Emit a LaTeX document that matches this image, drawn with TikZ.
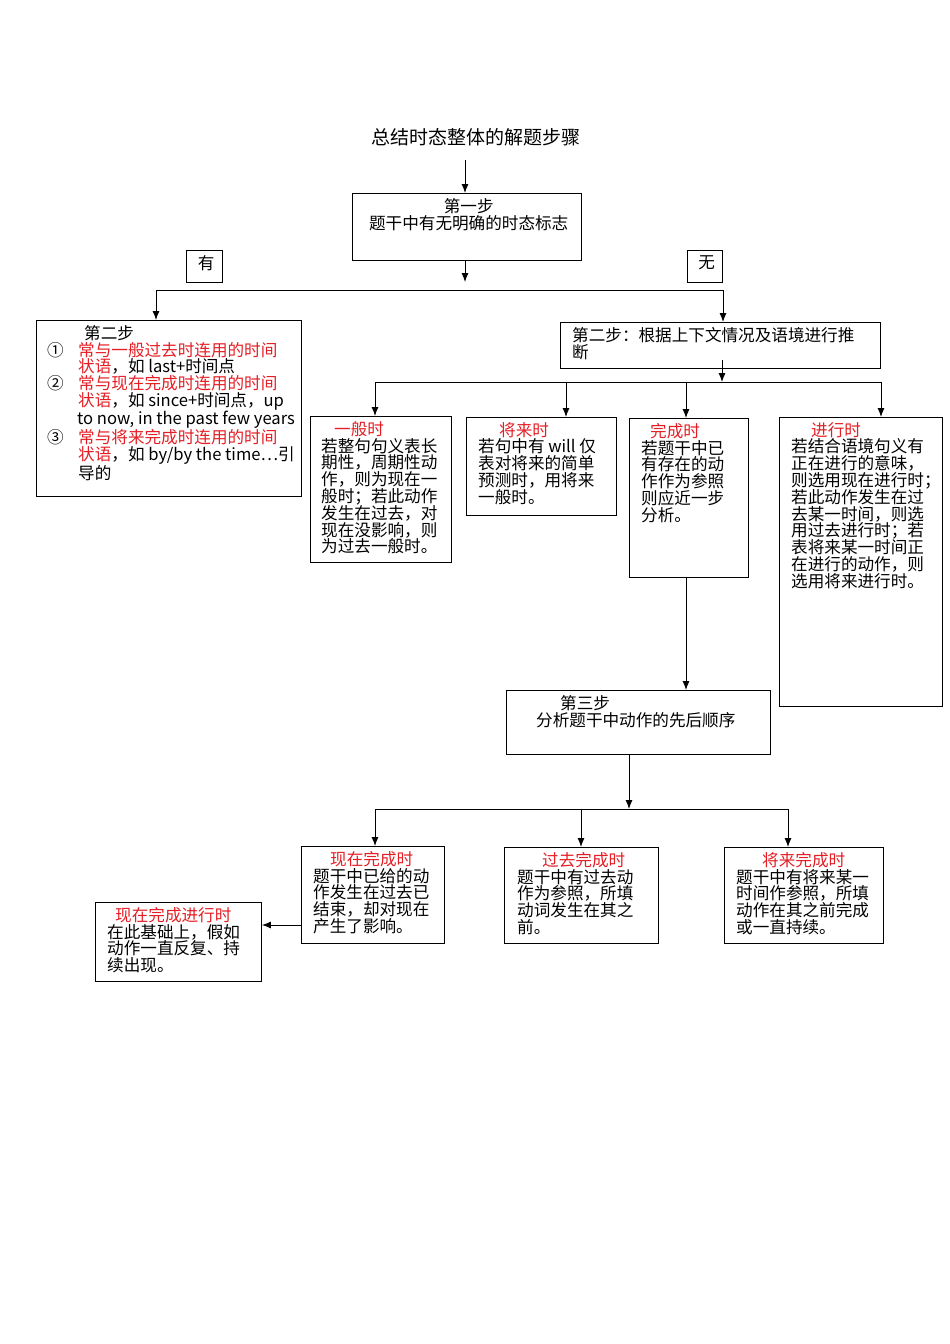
\documentclass[tikz,border=0pt]{standalone}
\usepackage{fontspec}
\usetikzlibrary{arrows.meta}
\setmainfont{Noto Sans CJK SC}
\XeTeXlinebreaklocale "zh"
\XeTeXlinebreakskip=0pt plus 1pt
\definecolor{myred}{RGB}{228,30,36}
\newcommand\rd[1]{\textcolor{myred}{#1}}
\tikzset{
  bx/.style={draw,line width=0.9pt,inner sep=0pt,anchor=north west},
  ar/.style={line width=0.9pt,-{Latex[length=9pt,width=7pt]}},
  ln/.style={line width=0.9pt}
}
% \mybox{name}{x1}{y1}{x2}{y2}{content}
\newcommand\mybox[6]{%
  \pgfmathsetmacro\bw{#4-#2}\pgfmathsetmacro\bh{#5-#3}%
  \pgfmathsetmacro\tw{#4-#2-8}\pgfmathsetmacro\th{#5-#3-8}%
  \node[bx,minimum width=\bw pt,minimum height=\bh pt] (#1) at (#2,#3) {};
  \node[anchor=north west,inner sep=0pt] at (#2+6,#3+5) {\parbox[t][\th pt][t]{\tw pt}{\fontsize{16.6}{16.8}\selectfont\raggedright #6}};
}
\begin{document}
\begin{tikzpicture}[x=1pt,y=-1pt]
\useasboundingbox (0,0) rectangle (950,1344);
\node (title) at (476,137) {\fontsize{19}{20}\selectfont 总结时态整体的解题步骤};
\mybox{s1}{352}{193}{581}{260}{\centering 第一步\\题干中有无明确的时态标志}
\mybox{you}{186}{250}{222}{282}{\centering 有}
\mybox{wu}{687}{250}{722}{282}{\centering 无}
\mybox{L}{36}{320}{301}{496}{%
\hspace*{42pt}第二步\\
\makebox[36pt][l]{\hspace{5pt}①}\rd{常与一般过去时连用的时间}\\
\hspace*{36pt}\rd{状语}，如 last+时间点\\
\makebox[36pt][l]{\hspace{5pt}②}\rd{常与现在完成时连用的时间}\\
\hspace*{36pt}\rd{状语}，如 since+时间点，up\\
\hspace*{35pt}to now, in the past few years\\
\makebox[36pt][l]{\hspace{5pt}③}\rd{常与将来完成时连用的时间}\\
\hspace*{36pt}\rd{状语}，如 by/by the time…引\\
\hspace*{36pt}导的}
\mybox{s2}{560}{322}{880}{368}{\hspace*{6pt}第二步：根据上下文情况及语境进行推\\\hspace*{6pt}断}
\mybox{yb}{310}{416}{451}{562}{\hspace*{18pt}\rd{一般时}\\\hspace*{5pt}若整句句义表长\\\hspace*{5pt}期性，周期性动\\\hspace*{5pt}作，则为现在一\\\hspace*{5pt}般时；若此动作\\\hspace*{5pt}发生在过去，对\\\hspace*{5pt}现在没影响，则\\\hspace*{5pt}为过去一般时。}
\mybox{jl}{466}{417}{616}{515}{\hspace*{27pt}\rd{将来时}\\\hspace*{6pt}若句中有 will 仅\\\hspace*{6pt}表对将来的简单\\\hspace*{6pt}预测时，用将来\\\hspace*{6pt}一般时。}
\mybox{wc}{629}{418}{748}{577}{\hspace*{15pt}\rd{完成时}\\\hspace*{6pt}若题干中已\\\hspace*{6pt}有存在的动\\\hspace*{6pt}作作为参照\\\hspace*{6pt}则应近一步\\\hspace*{6pt}分析。}
\mybox{jx}{779}{417}{942}{706}{\hspace*{26pt}\rd{进行时}\\\mbox{\hspace*{6pt}若结合语境句义有}\\\mbox{\hspace*{6pt}正在进行的意味，}\\\mbox{\hspace*{6pt}则选用现在进行时；}\\\mbox{\hspace*{6pt}若此动作发生在过}\\\mbox{\hspace*{6pt}去某一时间，则选}\\\mbox{\hspace*{6pt}用过去进行时；若}\\\mbox{\hspace*{6pt}表将来某一时间正}\\\mbox{\hspace*{6pt}在进行的动作，则}\\\mbox{\hspace*{6pt}选用将来进行时。}}
\mybox{s3}{506}{690}{770}{754}{\hspace*{48pt}第三步\\\hspace*{24pt}分析题干中动作的先后顺序}
\mybox{xw}{301}{846}{444}{943}{\hspace*{23pt}\rd{现在完成时}\\\hspace*{6pt}题干中已给的动\\\hspace*{6pt}作发生在过去已\\\hspace*{6pt}结束，却对现在\\\hspace*{6pt}产生了影响。}
\mybox{gw}{504}{847}{658}{943}{\hspace*{32pt}\rd{过去完成时}\\\hspace*{7pt}题干中有过去动\\\hspace*{7pt}作为参照，所填\\\hspace*{7pt}动词发生在其之\\\hspace*{7pt}前。}
\mybox{jw}{724}{847}{883}{943}{\hspace*{32pt}\rd{将来完成时}\\\hspace*{6pt}题干中有将来某一\\\hspace*{6pt}时间作参照，所填\\\hspace*{6pt}动作在其之前完成\\\hspace*{6pt}或一直持续。}
\mybox{xj}{95}{902}{261}{981}{\hspace*{14pt}\rd{现在完成进行时}\\\hspace*{6pt}在此基础上，假如\\\hspace*{6pt}动作一直反复、持\\\hspace*{6pt}续出现。}
% connectors
\coordinate (t0) at (465,160);
\draw[ar] (t0) -- (s1.north -| t0);
\coordinate (b1) at (465,282);
\draw[ar] (s1.south -| b1) -- (b1);
\coordinate (h1l) at (156,290); \coordinate (h1r) at (723,290);
\draw[ln] (h1l) -- (h1r);
\draw[ar] (h1l) -- (L.north -| h1l);
\draw[ar] (h1r) -- (s2.north -| h1r);
\coordinate (b2) at (722,382);
\draw[ar] (722,360) -- (b2);
\coordinate (h2l) at (375,382); \coordinate (h2r) at (881,382);
\coordinate (h2a) at (566,382); \coordinate (h2b) at (686,382);
\draw[ln] (h2l) -- (h2r);
\draw[ar] (h2l) -- (yb.north -| h2l);
\draw[ar] (h2a) -- (jl.north -| h2a);
\draw[ar] (h2b) -- (wc.north -| h2b);
\draw[ar] (h2r) -- (jx.north -| h2r);
\draw[ar] (wc.south -| h2b) -- (s3.north -| h2b);
\coordinate (h3m) at (629,809);
\coordinate (h3l) at (375,809); \coordinate (h3a) at (581,809); \coordinate (h3r) at (788,809);
\draw[ar] (s3.south -| h3m) -- (h3m);
\draw[ln] (h3l) -- (h3r);
\draw[ar] (h3l) -- (xw.north -| h3l);
\draw[ar] (h3a) -- (gw.north -| h3a);
\draw[ar] (h3r) -- (jw.north -| h3r);
\coordinate (m) at (0,925);
\draw[ar] (xw.west |- m) -- (xj.east |- m);
\end{tikzpicture}
\end{document}
